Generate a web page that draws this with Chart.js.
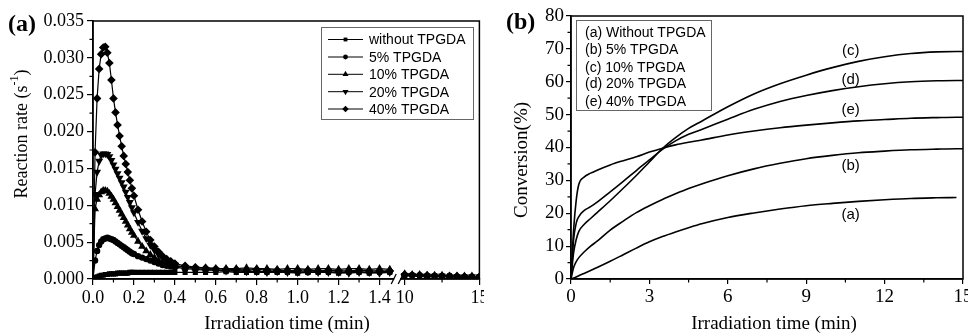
<!DOCTYPE html>
<html>
<head>
<meta charset="utf-8">
<script src="https://cdn.jsdelivr.net/npm/chart.js@4.4.1/dist/chart.umd.min.js"></script>
<style>
  body { margin: 0; background: #fff; }
  #wrap { position: relative; width: 968px; height: 334px; background: #fff; }
  canvas { position: absolute; top: 0; }
  #rateChart { left: 0; }
  #convChart { left: 484px; }
</style>
</head>
<body>
<div id="wrap">
  <canvas id="rateChart" width="484" height="334"></canvas>
  <canvas id="convChart" width="484" height="334"></canvas>
</div>
<script>
// ---------- panel (a): reaction rate vs time (broken x axis) ----------
const rateTime = [0, 0.01, 0.02, 0.03, 0.04, 0.05, 0.06, 0.07, 0.08, 0.09, 0.10,
  0.11, 0.12, 0.13, 0.14, 0.15, 0.16, 0.17, 0.18, 0.19, 0.20,
  0.22, 0.24, 0.26, 0.28, 0.30, 0.32, 0.34, 0.36, 0.38, 0.40,
  0.45, 0.50, 0.55, 0.60, 0.65, 0.70, 0.75, 0.80, 0.85, 0.90, 0.95,
  1.00, 1.05, 1.10, 1.15, 1.20, 1.25, 1.30, 1.35, 1.40, 1.45,
  10, 10.5, 11, 11.5, 12, 12.5, 13, 13.5, 14, 14.5, 15];

const rateWithout = [0, 0.0002, 0.0003, 0.0004, 0.0005, 0.0005, 0.0006, 0.0006, 0.0007, 0.0007, 0.0007,
  0.0007, 0.0008, 0.0008, 0.0008, 0.0008, 0.0008, 0.0008, 0.0009, 0.0009, 0.0009,
  0.0009, 0.0009, 0.0009, 0.0009, 0.0009, 0.0009, 0.0009, 0.0009, 0.0009, 0.0009,
  0.0009, 0.0009, 0.0009, 0.0009, 0.0010, 0.0009, 0.0009, 0.0009, 0.0009, 0.0009, 0.0009,
  0.0008, 0.0009, 0.0009, 0.0009, 0.0008, 0.0009, 0.0009, 0.0008, 0.0009, 0.0009,
  0.0005, 0.0005, 0.0004, 0.0004, 0.0004, 0.0004, 0.0004, 0.0003, 0.0003, 0.0003, 0.0003];

const rate5 = [0, 0.0025, 0.0038, 0.0046, 0.0051, 0.0054, 0.0055, 0.0056, 0.0055, 0.0054, 0.0053,
  0.0051, 0.0049, 0.0047, 0.0045, 0.0043, 0.0041, 0.0039, 0.0037, 0.0035, 0.0034,
  0.0031, 0.0029, 0.0027, 0.0025, 0.0023, 0.0021, 0.0019, 0.0018, 0.0017, 0.0016,
  0.0014, 0.0013, 0.0012, 0.0012, 0.0011, 0.0011, 0.0011, 0.0010, 0.0010, 0.0010, 0.0010,
  0.0010, 0.0009, 0.0010, 0.0010, 0.0009, 0.0010, 0.0010, 0.0009, 0.0010, 0.0010,
  0.0005, 0.0005, 0.0005, 0.0004, 0.0004, 0.0004, 0.0004, 0.0003, 0.0003, 0.0003, 0.0003];

const rate10 = [0, 0.0095, 0.0108, 0.0114, 0.0118, 0.0120, 0.0120, 0.0119, 0.0116, 0.0112, 0.0108,
  0.0103, 0.0098, 0.0093, 0.0088, 0.0083, 0.0078, 0.0073, 0.0068, 0.0063, 0.0059,
  0.0051, 0.0044, 0.0038, 0.0033, 0.0029, 0.0025, 0.0022, 0.0020, 0.0018, 0.0017,
  0.0016, 0.0015, 0.0015, 0.0014, 0.0014, 0.0014, 0.0015, 0.0014, 0.0014, 0.0013, 0.0014,
  0.0014, 0.0013, 0.0014, 0.0014, 0.0013, 0.0014, 0.0014, 0.0013, 0.0014, 0.0013,
  0.0007, 0.0006, 0.0006, 0.0005, 0.0005, 0.0005, 0.0004, 0.0004, 0.0004, 0.0004, 0.0003];

const rate20 = [0, 0.0115, 0.0145, 0.0160, 0.0168, 0.0170, 0.0170, 0.0169, 0.0166, 0.0161, 0.0155,
  0.0149, 0.0143, 0.0137, 0.0131, 0.0125, 0.0118, 0.0111, 0.0104, 0.0097, 0.0090,
  0.0077, 0.0065, 0.0055, 0.0046, 0.0039, 0.0033, 0.0028, 0.0024, 0.0021, 0.0019,
  0.0016, 0.0014, 0.0013, 0.0012, 0.0011, 0.0011, 0.0010, 0.0010, 0.0009, 0.0010, 0.0009,
  0.0009, 0.0010, 0.0009, 0.0009, 0.0009, 0.0008, 0.0009, 0.0009, 0.0008, 0.0009,
  0.0005, 0.0005, 0.0004, 0.0004, 0.0004, 0.0004, 0.0003, 0.0003, 0.0003, 0.0003, 0.0003];

const rate40 = [0, 0.0172, 0.0245, 0.0285, 0.0305, 0.0314, 0.0315, 0.0307, 0.0293, 0.0270, 0.0245,
  0.0226, 0.0209, 0.0194, 0.0180, 0.0167, 0.0156, 0.0145, 0.0134, 0.0123, 0.0113,
  0.0094, 0.0078, 0.0064, 0.0053, 0.0044, 0.0037, 0.0031, 0.0027, 0.0024, 0.0021,
  0.0018, 0.0016, 0.0015, 0.0014, 0.0013, 0.0013, 0.0012, 0.0013, 0.0012, 0.0012, 0.0011,
  0.0012, 0.0012, 0.0011, 0.0012, 0.0011, 0.0011, 0.0012, 0.0011, 0.0011, 0.0011,
  0.0006, 0.0005, 0.0005, 0.0005, 0.0004, 0.0004, 0.0004, 0.0004, 0.0003, 0.0003, 0.0003];

const rateLabels = ['without TPGDA', '5% TPGDA', '10% TPGDA', '20% TPGDA', '40% TPGDA'];
const rateXTicks = [0, 0.2, 0.4, 0.6, 0.8, 1.0, 1.2, 1.4, 10, 15];
const rateXTickLabels = ['0.0', '0.2', '0.4', '0.6', '0.8', '1.0', '1.2', '1.4', '10', '15'];
const rateXMinor = [0.1, 0.3, 0.5, 0.7, 0.9, 1.1, 1.3, 12.5];

// ---------- panel (b): conversion vs time ----------
const convTime = [0, 0.1, 0.2, 0.3, 0.5, 0.75, 1, 1.5, 2, 2.5, 3, 3.5, 4, 4.5, 5,
  6, 7, 8, 9, 10, 11, 12, 13, 14, 14.75, 15];
const convA = [0, 0.3, 0.6, 1.0, 1.7, 2.6, 3.5, 5.4, 7.4, 9.4, 11.3, 12.9, 14.3, 15.6, 16.8,
  18.7, 20.1, 21.3, 22.3, 23.0, 23.6, 24.1, 24.5, 24.7, 24.8, null];
const convB = [0, 3.5, 5.3, 6.5, 8.2, 10.0, 11.5, 14.9, 17.6, 20.2, 22.3, 24.2, 25.9, 27.5, 28.9,
  31.4, 33.5, 35.2, 36.6, 37.6, 38.4, 38.9, 39.3, 39.5, 39.6, 39.6];
const convC = [0, 8.0, 12.0, 14.5, 16.6, 18.4, 20.2, 23.8, 27.6, 31.5, 35.6, 39.7, 43.0, 45.8, 48.0,
  52.4, 56.3, 59.4, 62.0, 64.3, 66.2, 67.6, 68.6, 69.1, 69.2, 69.2];
const convD = [0, 12.0, 17.0, 19.0, 20.8, 22.0, 23.4, 26.5, 29.7, 33.0, 36.2, 39.4, 42.0, 44.0, 45.5,
  48.6, 51.6, 54.0, 55.8, 57.3, 58.5, 59.4, 60.0, 60.3, 60.4, 60.4];
const convE = [0, 15.0, 24.0, 28.8, 31.0, 32.2, 33.1, 34.7, 36.0, 37.2, 38.6, 39.8, 40.8, 41.6, 42.3,
  43.8, 45.0, 46.0, 46.8, 47.5, 48.1, 48.5, 48.9, 49.1, 49.2, 49.2];
const convLabels = ['(a) Without TPGDA', '(b) 5% TPGDA', '(c) 10% TPGDA', '(d) 20% TPGDA', '(e) 40% TPGDA'];
const convTags = ['(a)', '(b)', '(c)', '(d)', '(e)'];
const convXMinor = [1.5, 4.5, 7.5, 10.5, 13.5];
const convYMinor = [5, 15, 25, 35, 45, 55, 65, 75];

// ---------- broken axis mapping for panel (a) ----------
const BREAK_AT = 1.5, U10 = 1.523, SQUEEZE = 0.073;
function brokenX(t) {
  return t < BREAK_AT ? t : U10 + (t - 10) * SQUEEZE;
}

function rateSeries(values) {
  const pts = [];
  rateTime.forEach((t, i) => {
    if (i > 0 && rateTime[i - 1] < BREAK_AT && t >= BREAK_AT) {
      pts.push({ x: (brokenX(rateTime[i - 1]) + brokenX(t)) / 2, y: null });
    }
    pts.push({ x: brokenX(t), y: values[i] });
  });
  return pts;
}

const SERIF = '"Liberation Serif", "Times New Roman", serif';
const SANS = '"Liberation Sans", Arial, sans-serif';

const rateMarkers = [
  { style: 'rect', r: 3.6, rot: 0 },
  { style: 'circle', r: 3.2, rot: 0 },
  { style: 'triangle', r: 4.6, rot: 0 },
  { style: 'triangle', r: 4.6, rot: 180 },
  { style: 'rectRot', r: 4.3, rot: 0 }
];

// small marker painter for the legend
function drawMarker(ctx, m, x, y, scale) {
  const r = m.r * scale;
  ctx.beginPath();
  if (m.style === 'rect') {
    const s = r * Math.SQRT1_2;
    ctx.rect(x - s, y - s, 2 * s, 2 * s);
  } else if (m.style === 'circle') {
    ctx.arc(x, y, r, 0, Math.PI * 2);
  } else if (m.style === 'rectRot') {
    ctx.moveTo(x, y - r); ctx.lineTo(x + r, y); ctx.lineTo(x, y + r); ctx.lineTo(x - r, y);
  } else {
    const d = m.rot === 180 ? -1 : 1;
    ctx.moveTo(x, y - d * r);
    ctx.lineTo(x + r * 0.866, y + d * r * 0.5);
    ctx.lineTo(x - r * 0.866, y + d * r * 0.5);
  }
  ctx.closePath();
  ctx.fill();
}

function fixAxis(size) {
  return function (scale) {
    if (scale.isHorizontal()) {
      scale.height = size;
      scale.paddingLeft = 0;
      scale.paddingRight = 0;
    } else {
      scale.width = size;
      scale.paddingTop = 0;
      scale.paddingBottom = 0;
    }
  };
}

function strokeMinor(ctx, area, xs, ys, xVals, yVals) {
  ctx.beginPath();
  xVals.forEach(v => {
    const px = xs.getPixelForValue(v);
    ctx.moveTo(px, area.bottom); ctx.lineTo(px, area.bottom + 3.5);
  });
  yVals.forEach(v => {
    const py = ys.getPixelForValue(v);
    ctx.moveTo(area.left, py); ctx.lineTo(area.left - 3.5, py);
  });
  ctx.stroke();
}

// ---------- chart (a) ----------
const rateSets = [rateWithout, rate5, rate10, rate20, rate40].map((vals, i) => ({
  label: rateLabels[i],
  data: rateSeries(vals),
  borderColor: '#000',
  backgroundColor: '#000',
  borderWidth: 1.2,
  pointStyle: rateMarkers[i].style,
  pointRadius: rateMarkers[i].r,
  pointRotation: rateMarkers[i].rot,
  pointBackgroundColor: '#000',
  pointBorderWidth: 0,
  tension: 0,
  spanGaps: false
}));

const rateDecor = {
  id: 'rateDecor',
  afterDraw(chart) {
    const { ctx, chartArea: a, scales: { x, y } } = chart;
    ctx.save();
    ctx.strokeStyle = '#000';
    ctx.fillStyle = '#000';

    // frame
    ctx.lineWidth = 1.5;
    ctx.strokeRect(a.left, a.top, a.right - a.left, a.bottom - a.top);

    // minor ticks
    ctx.lineWidth = 1.2;
    const yMinor = [];
    for (let v = 0.0025; v < 0.035; v += 0.005) yMinor.push(v);
    strokeMinor(ctx, a, x, y, rateXMinor.map(brokenX), yMinor);

    // axis break
    const bp = x.getPixelForValue((brokenX(1.45) + brokenX(10)) / 2);
    ctx.fillStyle = '#fff';
    ctx.fillRect(bp - 3, a.bottom - 2, 6, 4);
    ctx.fillStyle = '#000';
    ctx.lineWidth = 1.3;
    ctx.beginPath();
    ctx.moveTo(bp - 6, a.bottom + 5); ctx.lineTo(bp - 1, a.bottom - 5);
    ctx.moveTo(bp + 1, a.bottom + 5); ctx.lineTo(bp + 6, a.bottom - 5);
    ctx.stroke();

    // legend
    ctx.lineWidth = 1;
    ctx.strokeStyle = '#666';
    ctx.strokeRect(321.5, 27.5, 152, 92);
    ctx.strokeStyle = '#000';
    ctx.font = '14px ' + SANS;
    ctx.textBaseline = 'middle';
    ctx.textAlign = 'left';
    const rows = [39.5, 57, 74.3, 91.7, 109];
    rateLabels.forEach((lab, i) => {
      ctx.beginPath();
      ctx.moveTo(328, rows[i]); ctx.lineTo(363, rows[i]);
      ctx.stroke();
      drawMarker(ctx, rateMarkers[i], 345.5, rows[i], 0.75);
      ctx.fillText(lab, 369, rows[i] + 1);
    });

    // panel letter
    ctx.font = 'bold 24px ' + SERIF;
    ctx.fillText('(a)', 8, 25);

    // x title
    ctx.font = '19px ' + SERIF;
    ctx.textAlign = 'center';
    ctx.fillText('Irradiation time (min)', 287, 324);

    // y title with superscript
    ctx.translate(22, 134);
    ctx.rotate(-Math.PI / 2);
    ctx.textAlign = 'left';
    const main = 'Reaction rate (s';
    ctx.font = '18px ' + SERIF;
    const w1 = ctx.measureText(main).width;
    ctx.font = '12px ' + SERIF;
    const w2 = ctx.measureText('-1').width;
    ctx.font = '18px ' + SERIF;
    const w3 = ctx.measureText(')').width;
    let cx = -(w1 + w2 + w3) / 2;
    ctx.fillText(main, cx, 0);
    cx += w1;
    ctx.font = '12px ' + SERIF;
    ctx.fillText('-1', cx, -7);
    cx += w2;
    ctx.font = '18px ' + SERIF;
    ctx.fillText(')', cx, 0);
    ctx.restore();
  }
};

new Chart(document.getElementById('rateChart').getContext('2d'), {
  type: 'line',
  data: { datasets: rateSets },
  options: {
    responsive: false,
    animation: false,
    devicePixelRatio: 1,
    layout: { padding: { left: 0, right: 3, top: 21, bottom: 0 } },
    plugins: { legend: { display: false }, tooltip: { enabled: false } },
    scales: {
      x: {
        type: 'linear',
        min: 0,
        max: brokenX(15),
        afterBuildTicks: scale => { scale.ticks = rateXTicks.map(t => ({ value: brokenX(t) })); },
        afterFit: fixAxis(55),
        ticks: {
          autoSkip: false, maxRotation: 0, padding: 2,
          color: '#000', font: { family: SERIF, size: 18 },
          callback: (v, i) => rateXTickLabels[i]
        },
        grid: { drawOnChartArea: false, color: '#000', lineWidth: 1.2, tickLength: 6 },
        border: { color: '#000', width: 1.5 }
      },
      y: {
        min: 0,
        max: 0.035,
        afterFit: fixAxis(93),
        ticks: {
          stepSize: 0.005, padding: 3,
          color: '#000', font: { family: SERIF, size: 18 },
          callback: v => v.toFixed(3)
        },
        grid: { drawOnChartArea: false, color: '#000', lineWidth: 1.2, tickLength: 6 },
        border: { color: '#000', width: 1.5 }
      }
    }
  },
  plugins: [rateDecor]
});

// ---------- chart (b) ----------
const convSets = [convA, convB, convC, convD, convE].map((vals, i) => ({
  label: convLabels[i],
  data: convTime.map((t, j) => ({ x: t, y: vals[j] })),
  borderColor: '#000',
  borderWidth: 1.6,
  pointRadius: 0,
  fill: false,
  cubicInterpolationMode: 'monotone',
  spanGaps: false
}));

const convTagPos = [[10.7, 19.5], [10.7, 34.4], [10.7, 69.3], [10.7, 60.5], [10.7, 51.4]];

const convDecor = {
  id: 'convDecor',
  afterDraw(chart) {
    const { ctx, chartArea: a, scales: { x, y } } = chart;
    ctx.save();
    ctx.strokeStyle = '#000';
    ctx.fillStyle = '#000';

    ctx.lineWidth = 1.5;
    ctx.strokeRect(a.left, a.top, a.right - a.left, a.bottom - a.top);

    ctx.lineWidth = 1.2;
    strokeMinor(ctx, a, x, y, convXMinor, convYMinor);

    // curve tags
    ctx.font = '15px ' + SANS;
    ctx.textAlign = 'center';
    ctx.textBaseline = 'middle';
    convTags.forEach((tag, i) => {
      ctx.fillText(tag, x.getPixelForValue(convTagPos[i][0]), y.getPixelForValue(convTagPos[i][1]));
    });

    // legend
    ctx.lineWidth = 1;
    ctx.strokeStyle = '#666';
    ctx.strokeRect(92.5, 20.5, 135, 90);
    ctx.font = '14px ' + SANS;
    ctx.textAlign = 'left';
    const rows = [31.7, 49.3, 66.7, 83.3, 100.7];
    convLabels.forEach((lab, i) => ctx.fillText(lab, 101, rows[i] + 1));

    // panel letter
    ctx.font = 'bold 24px ' + SERIF;
    ctx.fillText('(b)', 22, 23);

    // axis titles
    ctx.font = '19px ' + SERIF;
    ctx.textAlign = 'center';
    ctx.fillText('Irradiation time (min)', 290, 324);
    ctx.translate(38, 160);
    ctx.rotate(-Math.PI / 2);
    ctx.fillText('Conversion(%)', 0, 0);
    ctx.restore();
  }
};

new Chart(document.getElementById('convChart').getContext('2d'), {
  type: 'line',
  data: { datasets: convSets },
  options: {
    responsive: false,
    animation: false,
    devicePixelRatio: 1,
    layout: { padding: { left: 0, right: 5, top: 16, bottom: 0 } },
    plugins: { legend: { display: false }, tooltip: { enabled: false } },
    scales: {
      x: {
        type: 'linear',
        min: 0,
        max: 15,
        afterFit: fixAxis(55),
        ticks: {
          stepSize: 3, autoSkip: false, maxRotation: 0, padding: 2,
          color: '#000', font: { family: SERIF, size: 19 }
        },
        grid: { drawOnChartArea: false, color: '#000', lineWidth: 1.2, tickLength: 5 },
        border: { color: '#000', width: 1.5 }
      },
      y: {
        min: 0,
        max: 80,
        afterFit: fixAxis(87),
        ticks: {
          stepSize: 10, padding: 2,
          color: '#000', font: { family: SERIF, size: 19 }
        },
        grid: { drawOnChartArea: false, color: '#000', lineWidth: 1.2, tickLength: 5 },
        border: { color: '#000', width: 1.5 }
      }
    }
  },
  plugins: [convDecor]
});
</script>
</body>
</html>
